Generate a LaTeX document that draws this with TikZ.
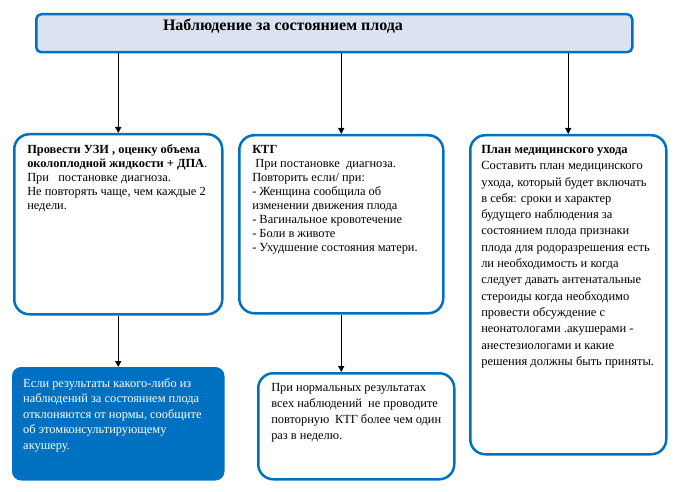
\documentclass[tikz,border=0pt]{standalone}
\usepackage{fontspec}
\setmainfont{Liberation Serif}
\usetikzlibrary{arrows.meta,positioning}
\definecolor{frame}{HTML}{0070C0}
\definecolor{pale}{HTML}{DCE3F0}
\newcommand{\boxtext}[3]{\parbox[c][#2][t]{#1}{\raggedright#3}}

\begin{document}
\begin{tikzpicture}[
  x=1pt,y=-1pt,
  every node/.style={font=\fontsize{12.4}{14}\selectfont},
  head/.style={draw=frame,line width=2.5pt,rounded corners=5pt,fill=pale,
               minimum width=596pt,minimum height=38pt,anchor=north west},
  box/.style={draw=frame,line width=2.5pt,rounded corners=15pt,fill=white,
              inner xsep=13pt,inner ysep=10pt,anchor=north west},
  alertbox/.style={box,fill=frame,text=white,rounded corners=8pt,inner xsep=10pt},
  arr/.style={-{Triangle[length=6pt,width=6pt]},line width=1.2pt,black}
]
\useasboundingbox (0,0) rectangle (678,492);
\node[head] (obs) at (35,13) {};
\node[font=\fontsize{16}{18}\selectfont\bfseries] (title) at (283,26)
  {Наблюдение за состоянием плода};
\node[box] (usg) at (13,133) {\boxtext{182pt}{160pt}{%
  \textbf{Провести УЗИ , оценку объема}\\
  \textbf{околоплодной жидкости + ДПА}.\\
  При\ \ \ постановке диагноза.\\
  Не повторять чаще, чем каждые 2\\
  недели.}};
\node[box] (ctg) at (238,134) {\boxtext{178pt}{158pt}{%
  \textbf{КТГ}\\
  \ При постановке\ \ диагноза.\\
  Повторить если/ при:\\
  - Женщина сообщила об\\
  изменении движения плода\\
  - Вагинальное кровотечение\\
  - Боли в животе\\
  - Ухудшение состояния матери.}};
\node[box,inner xsep=11pt,font=\fontsize{12.5}{16.3}\selectfont] (plan) at (469,134)
  {\boxtext{174pt}{299pt}{%
  \textbf{План медицинского ухода}\\
  Составить план медицинского\\
  ухода, который будет включать\\
  в себя: сроки и характер\\
  будущего наблюдения за\\
  состоянием плода признаки\\
  плода для родоразрешения есть\\
  ли необходимость и когда\\
  следует давать антенатальные\\
  стероиды когда необходимо\\
  провести обсуждение с\\
  неонатологами .акушерами -\\
  анестезиологами и какие\\
  решения должны быть приняты.}};
\node[alertbox,font=\fontsize{12.4}{15.5}\selectfont] (alert) at (12,367)
  {\boxtext{190pt}{91pt}{%
  Если результаты какого-либо из\\
  наблюдений за состоянием плода\\
  отклоняются от нормы, сообщите\\
  об этомконсультирующему\\
  акушеру.}};
\node[box,font=\fontsize{12.4}{16}\selectfont] (normal) at (257,372)
  {\boxtext{170pt}{86pt}{%
  При нормальных результатах\\
  всех наблюдений\ \ не проводите\\
  повторную\ \ КТГ более чем один\\
  раз в неделю.}};

\draw[arr] (usg.north |- obs.south) -- (usg.north);
\draw[arr] (ctg.north |- obs.south) -- (ctg.north);
\draw[arr] (plan.north |- obs.south) -- (plan.north);
\draw[arr] (usg.south) -- (alert.north);
\draw[arr] (ctg.south) -- (ctg.south |- normal.north);
\end{tikzpicture}
\end{document}
